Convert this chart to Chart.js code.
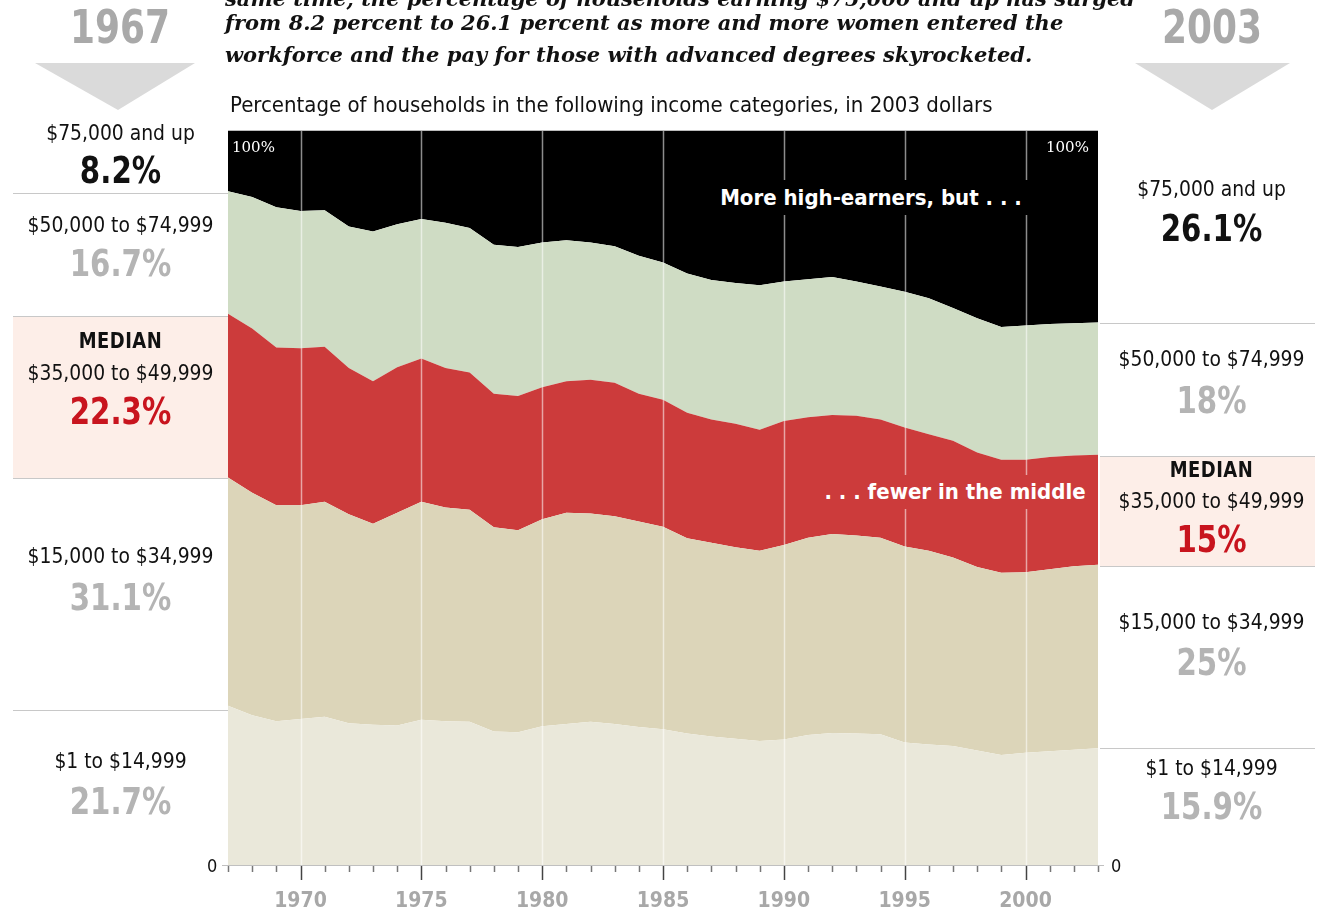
<!DOCTYPE html>
<html>
<head>
<meta charset="utf-8">
<script src="https://cdn.jsdelivr.net/npm/chart.js@4"></script>
<style>
  body { margin: 0; background: #fff; }
  #wrap { position: relative; width: 1323px; height: 913px; overflow: hidden; font-family: "Liberation Sans Narrow", "DejaVu Sans Condensed", "Roboto", sans-serif; }
  #chart { position: absolute; left: 0; top: 0; }
  .t { position: absolute; white-space: nowrap; }
  .c { text-align: center; }
  .lab { font-size: 21.5px; color: #111; transform: scaleX(0.97); }
  .pct { font-size: 37px; font-weight: bold; color: #b4b4b4; transform: scaleX(0.88); }
  .blk { color: #111; }
  .red { color: #c8141e; }
  .med { font-size: 21px; font-weight: bold; color: #111; letter-spacing: 0.5px; transform: scaleX(0.95); }
  .year { font-size: 47px; font-weight: bold; color: #a9a9a9; transform: scaleX(0.85); }
  .hr { position: absolute; height: 0; border-top: 1px solid #c8c8c8; }
  .box { position: absolute; background: #fdeee8; }
  .note { position: absolute; font-size: 22px; font-weight: bold; color: #fff; text-align: center; }
  .serif { position: absolute; left: 225px; font-family: "DejaVu Serif", serif; font-style: italic; font-weight: bold; font-size: 21px; color: #111; white-space: nowrap; }
</style>
</head>
<body>
<div id="wrap">
  <!-- side panels -->
  <div class="box" style="left:13px; top:316px; width:215px; height:162px;"></div>
  <div class="box" style="left:1100px; top:456px; width:215px; height:110px;"></div>
  <div class="hr" style="left:13px; top:193px; width:215px;"></div>
  <div class="hr" style="left:13px; top:316px; width:215px;"></div>
  <div class="hr" style="left:13px; top:478px; width:215px;"></div>
  <div class="hr" style="left:13px; top:710px; width:215px;"></div>
  <div class="hr" style="left:1100px; top:323px; width:215px;"></div>
  <div class="hr" style="left:1100px; top:456px; width:215px;"></div>
  <div class="hr" style="left:1100px; top:566px; width:215px;"></div>
  <div class="hr" style="left:1100px; top:748px; width:215px;"></div>

  <canvas id="chart" width="1323" height="913"></canvas>

  <!-- header -->
  <div class="t c year" style="left:20px; width:200px; top:-1px; line-height:56px;">1967</div>
  <div class="t c year" style="left:1112px; width:200px; top:-1px; line-height:56px;">2003</div>
  <svg style="position:absolute; left:0; top:0;" width="1323" height="120">
    <polygon points="35,63 195,63 118,110" fill="#dadada"/>
    <polygon points="1135,63 1290,63 1212,110" fill="#dadada"/>
  </svg>
  <div class="serif" style="top:-14px;">same time, the percentage of households earning $75,000 and up has surged</div>
  <div class="serif" style="top:10px;">from 8.2 percent to 26.1 percent as more and more women entered the</div>
  <div class="serif" style="top:42px;">workforce and the pay for those with advanced degrees skyrocketed.</div>
  <div class="t" style="left:230px; top:92px; font-size:22px; color:#111;">Percentage of households in the following income categories, in 2003 dollars</div>

  <!-- left labels -->
  <div class="t c lab" style="left:13px; width:215px; top:120px;">$75,000 and up</div>
  <div class="t c pct blk" style="left:13px; width:215px; top:149px;">8.2%</div>
  <div class="t c lab" style="left:13px; width:215px; top:212px;">$50,000 to $74,999</div>
  <div class="t c pct" style="left:13px; width:215px; top:242px;">16.7%</div>
  <div class="t c med" style="left:13px; width:215px; top:329px;">MEDIAN</div>
  <div class="t c lab" style="left:13px; width:215px; top:360px;">$35,000 to $49,999</div>
  <div class="t c pct red" style="left:13px; width:215px; top:390px;">22.3%</div>
  <div class="t c lab" style="left:13px; width:215px; top:543px;">$15,000 to $34,999</div>
  <div class="t c pct" style="left:13px; width:215px; top:576px;">31.1%</div>
  <div class="t c lab" style="left:13px; width:215px; top:748px;">$1 to $14,999</div>
  <div class="t c pct" style="left:13px; width:215px; top:780px;">21.7%</div>

  <!-- right labels -->
  <div class="t c lab" style="left:1103px; width:217px; top:176px;">$75,000 and up</div>
  <div class="t c pct blk" style="left:1103px; width:217px; top:207px;">26.1%</div>
  <div class="t c lab" style="left:1103px; width:217px; top:346px;">$50,000 to $74,999</div>
  <div class="t c pct" style="left:1103px; width:217px; top:379px;">18%</div>
  <div class="t c med" style="left:1103px; width:217px; top:458px;">MEDIAN</div>
  <div class="t c lab" style="left:1103px; width:217px; top:488px;">$35,000 to $49,999</div>
  <div class="t c pct red" style="left:1103px; width:217px; top:518px;">15%</div>
  <div class="t c lab" style="left:1103px; width:217px; top:609px;">$15,000 to $34,999</div>
  <div class="t c pct" style="left:1103px; width:217px; top:641px;">25%</div>
  <div class="t c lab" style="left:1103px; width:217px; top:755px;">$1 to $14,999</div>
  <div class="t c pct" style="left:1103px; width:217px; top:785px;">15.9%</div>

  <!-- in-plot notes -->
  <div class="t" style="left:232px; top:138px; font-family:'DejaVu Serif', serif; font-size:15px; color:#fff;">100%</div>
  <div class="t" style="left:1046px; top:138px; font-family:'DejaVu Serif', serif; font-size:15px; color:#fff;">100%</div>
  <div class="note" style="left:712px; top:180px; width:318px; height:35px; line-height:35px; background:#000;">More high-earners, but . . .</div>
  <div class="note" style="left:820px; top:475px; width:270px; height:34px; line-height:34px; background:#cc3b3b;">. . . fewer in the middle</div>
  <div class="t" style="left:207px; top:855px; font-size:18px; color:#111;">0</div>
  <div class="t" style="left:1111px; top:855px; font-size:18px; color:#111;">0</div>
</div>

<script>
// Household income distribution, percent of households, 1967-2003 (2003 dollars)
const years = [];
for (let y = 1967; y <= 2003; y++) years.push(y);

const under15k = [21.7, 20.4, 19.6, 19.9, 20.2, 19.3, 19.1, 19.0, 19.8, 19.6, 19.5, 18.2, 18.1, 18.9, 19.2, 19.5, 19.2, 18.8, 18.5,
  17.9, 17.5, 17.2, 16.9, 17.1, 17.7, 18.0, 17.9, 17.8, 16.7, 16.4, 16.2, 15.6, 15.0, 15.3, 15.5, 15.7, 15.9];
const from15to35k = [31.1, 30.3, 29.4, 29.1, 29.3, 28.5, 27.4, 29.0, 29.7, 29.1, 28.9, 27.8, 27.5, 28.2, 28.8, 28.4, 28.3, 28.0, 27.6,
  26.6, 26.4, 26.1, 25.9, 26.5, 26.9, 27.1, 27.0, 26.8, 26.7, 26.4, 25.7, 25.0, 24.8, 24.6, 24.8, 25.0, 25.0];
const from35to50k = [22.3, 22.4, 21.5, 21.4, 21.1, 19.9, 19.4, 19.8, 19.5, 19.0, 18.7, 18.2, 18.3, 18.0, 17.9, 18.2, 18.2, 17.4, 17.3,
  17.1, 16.8, 16.8, 16.5, 16.9, 16.4, 16.2, 16.3, 16.1, 16.2, 15.9, 15.9, 15.6, 15.4, 15.3, 15.3, 15.1, 15.0];
const from50to75k = [16.7, 17.9, 19.1, 18.7, 18.6, 19.3, 20.4, 19.5, 19.0, 19.8, 19.7, 20.3, 20.3, 19.7, 19.2, 18.7, 18.6, 18.8, 18.7,
  19.0, 19.0, 19.2, 19.7, 19.0, 18.8, 18.8, 18.3, 18.1, 18.5, 18.5, 18.1, 18.3, 18.1, 18.3, 18.1, 18.0, 18.0];
const over75k = [8.2, 9.0, 10.4, 10.9, 10.8, 13.0, 13.7, 12.7, 12.0, 12.5, 13.2, 15.5, 15.8, 15.2, 14.9, 15.2, 15.7, 17.0, 17.9,
  19.4, 20.3, 20.7, 21.0, 20.5, 20.2, 19.9, 20.5, 21.2, 21.9, 22.8, 24.1, 25.5, 26.7, 26.5, 26.3, 26.2, 26.1];

const seriesNames = ['$1 to $14,999', '$15,000 to $34,999', '$35,000 to $49,999', '$50,000 to $74,999', '$75,000 and up'];
const seriesColors = ['#eae8da', '#dcd5b9', '#cc3b3b', '#cfdcc4', '#000000'];
const seriesData = [under15k, from15to35k, from35to50k, from50to75k, over75k];

// white year lines on top of the areas, plus the year tick marks under the axis
const yearMarks = {
  id: 'yearMarks',
  afterDatasetsDraw(chart) {
    const ctx = chart.ctx;
    const area = chart.chartArea;
    const xs = chart.scales.x;
    ctx.save();
    years.forEach((yr, i) => {
      const x = Math.round(xs.getPixelForValue(i)) + 0.5;
      const major = yr % 5 === 0;
      if (major) {
        ctx.strokeStyle = 'rgba(255,255,255,0.55)';
        ctx.lineWidth = 1.5;
        ctx.beginPath();
        ctx.moveTo(x, area.top);
        ctx.lineTo(x, area.bottom);
        ctx.stroke();
      }
      ctx.strokeStyle = major ? '#444' : '#777';
      ctx.lineWidth = 1.5;
      ctx.beginPath();
      ctx.moveTo(x, area.bottom + 1);
      ctx.lineTo(x, area.bottom + (major ? 15 : 7));
      ctx.stroke();
    });
    ctx.strokeStyle = '#c0c0c0';
    ctx.lineWidth = 1;
    ctx.beginPath();
    ctx.moveTo(area.left - 6, area.bottom + 0.5);
    ctx.lineTo(area.right + 6, area.bottom + 0.5);
    ctx.stroke();
    ctx.strokeStyle = '#bbbbbb';
    ctx.beginPath();
    ctx.moveTo(area.left, area.top - 0.5);
    ctx.lineTo(area.right, area.top - 0.5);
    ctx.stroke();
    ctx.restore();
  }
};

new Chart(document.getElementById('chart'), {
  type: 'line',
  data: {
    labels: years,
    datasets: seriesData.map((d, i) => ({
      label: seriesNames[i],
      data: d,
      backgroundColor: seriesColors[i],
      borderWidth: 0,
      pointRadius: 0,
      tension: 0,
      fill: i === 0 ? 'origin' : '-1'
    }))
  },
  options: {
    responsive: false,
    animation: false,
    layout: { padding: { left: 228, right: 225, top: 131, bottom: 0 } },
    plugins: { legend: { display: false }, tooltip: { enabled: false } },
    scales: {
      x: {
        grid: { display: false, drawTicks: false, tickLength: 0 },
        border: { display: false },
        ticks: {
          autoSkip: false,
          maxRotation: 0,
          padding: 24,
          color: '#a8a8a8',
          font: { family: '"Liberation Sans Narrow", "DejaVu Sans Condensed", sans-serif', size: 21, weight: 'bold' },
          callback: (v, i) => (years[i] % 5 === 0 ? String(years[i]) : '')
        },
        afterFit: (s) => { s.height = 48; }
      },
      y: {
        display: false,
        stacked: true,
        min: 0,
        max: 100
      }
    }
  },
  plugins: [yearMarks]
});
</script>
</body>
</html>
